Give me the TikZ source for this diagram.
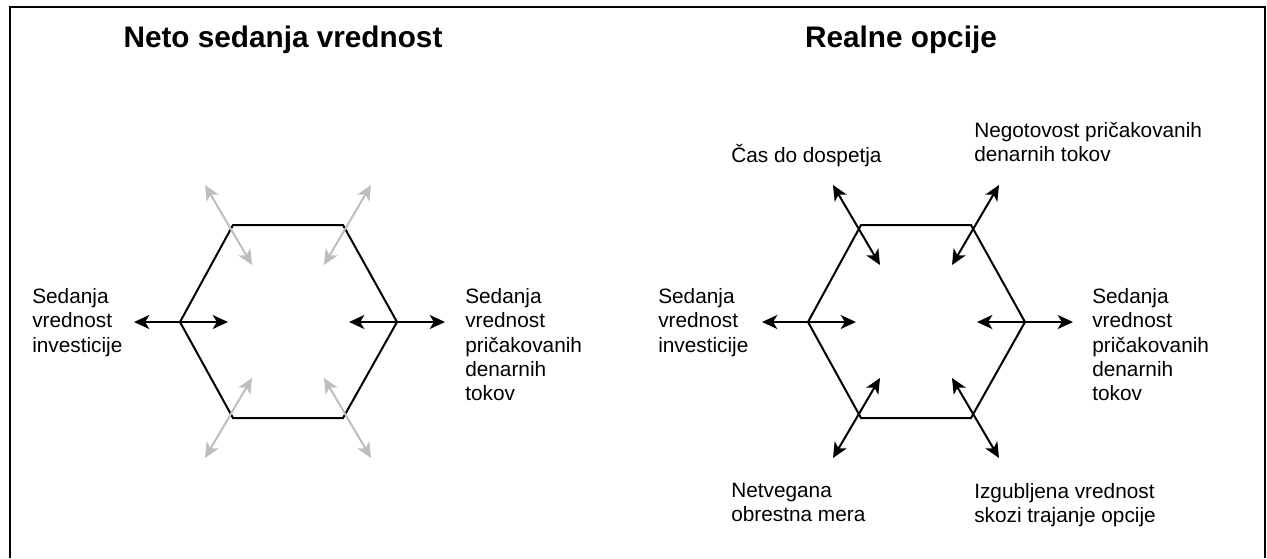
\documentclass[tikz,border=0pt]{standalone}
\usepackage{fontspec}
\setmainfont{Liberation Sans}
\usetikzlibrary{arrows.meta}
\definecolor{softgray}{RGB}{190,190,190}
\begin{document}
\begin{tikzpicture}[x=0.75pt,y=-0.75pt,
  edge/.style={line width=1.5pt, line join=miter},
  tip/.style={-{Stealth[length=11.5pt,width=10.5pt,inset=3.2pt]}, line width=1.5pt},
  lbl/.style={font=\fontsize{15.6}{18.3}\selectfont, align=left, inner sep=0pt, anchor=north west},
  lblone/.style={font=\fontsize{15.6}{18.3}\selectfont, inner sep=0pt, anchor=base west},
  ttl/.style={font=\fontsize{22.3}{26}\selectfont\bfseries, inner sep=0pt, anchor=base}]
\useasboundingbox (0,0) rectangle (1267,558);

% open frame
\draw[line width=1.8pt] (10,558) -- (10,7) -- (1265,7) -- (1265,558);

% titles
\node[ttl] (ptitle) at (283,47) {Neto sedanja vrednost};
\node[ttl] (qtitle) at (901,47) {Realne opcije};

% two hexagons with their value-driver arrows
\foreach \ox/\h/\dc in {0/p/softgray,628/q/black}{
  \coordinate (\h L)  at (180+\ox,322);
  \coordinate (\h TL) at (233+\ox,225);
  \coordinate (\h TR) at (343+\ox,225);
  \coordinate (\h R)  at (397+\ox,322);
  \coordinate (\h BR) at (343+\ox,418);
  \coordinate (\h BL) at (233+\ox,418);
  \draw[edge] (\h L) -- (\h TL) -- (\h TR) -- (\h R) -- (\h BR) -- (\h BL) -- cycle;

  % horizontal arrows
  \coordinate (\h Lo) at (134+\ox,322);
  \coordinate (\h Li) at (228+\ox,322);
  \coordinate (\h Ro) at (445+\ox,322);
  \coordinate (\h Ri) at (349+\ox,322);
  \draw[tip] (\h L) -- (\h Lo);
  \draw[tip] (\h L) -- (\h Li);
  \draw[tip] (\h R) -- (\h Ro);
  \draw[tip] (\h R) -- (\h Ri);

  % diagonal arrows at the four slanted corners
  \coordinate (\h TLh) at (228.5+\ox,225);
  \coordinate (\h TLo) at (205+\ox,185);
  \coordinate (\h TLi) at (252+\ox,265);
  \coordinate (\h TRh) at (347.5+\ox,225);
  \coordinate (\h TRo) at (371+\ox,185);
  \coordinate (\h TRi) at (324+\ox,265);
  \coordinate (\h BLh) at (228.5+\ox,418);
  \coordinate (\h BLo) at (205+\ox,458);
  \coordinate (\h BLi) at (252+\ox,378);
  \coordinate (\h BRh) at (347.5+\ox,418);
  \coordinate (\h BRo) at (371+\ox,458);
  \coordinate (\h BRi) at (324+\ox,378);
  \foreach \c in {TL,TR,BL,BR}{
    \draw[tip, color=\dc] (\h\c h) -- (\h\c o);
    \draw[tip, color=\dc] (\h\c h) -- (\h\c i);
  }
}

% labels, net present value
\node[lbl] (pleft)  at (32,288)  {Sedanja\\vrednost\\investicije};
\node[lbl] (pright) at (465,288) {Sedanja\\vrednost\\pričakovanih\\denarnih\\tokov};

% labels, real options
\node[lbl] (qleft)  at (658,288)  {Sedanja\\vrednost\\investicije};
\node[lbl] (qright) at (1092,288) {Sedanja\\vrednost\\pričakovanih\\denarnih\\tokov};
\node[lblone] (qtl) at (731,162) {Čas do dospetja};
\node[lbl] (qtr) at (974,122) {Negotovost pričakovanih\\denarnih tokov};
\node[lbl] (qbl) at (731,483) {Netvegana\\obrestna mera};
\node[lbl] (qbr) at (974,483) {Izgubljena vrednost\\skozi trajanje opcije};
\end{tikzpicture}
\end{document}
